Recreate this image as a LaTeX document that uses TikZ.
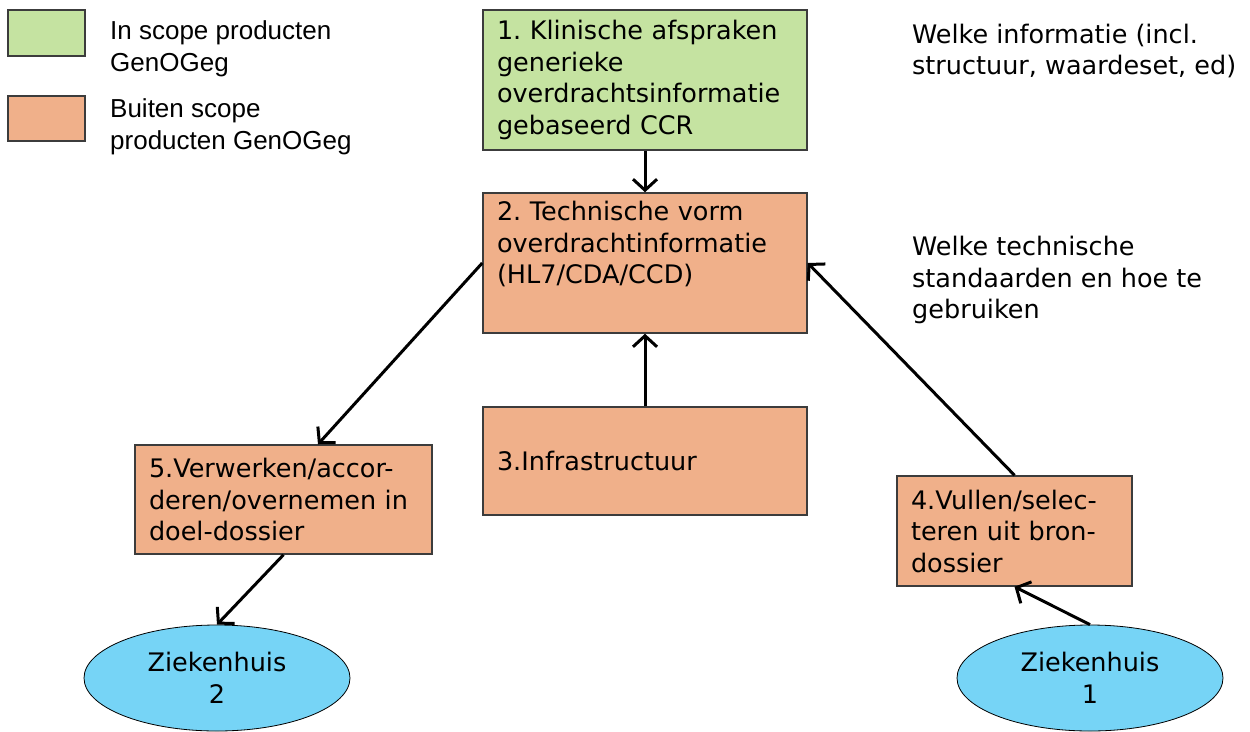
\documentclass[tikz,border=0pt]{standalone}
\usepackage{fontspec}
\setmainfont{DejaVu Sans}
\newfontfamily\legfont{Liberation Sans}
\usetikzlibrary{arrows.meta,shapes.geometric}
\definecolor{ingreen}{RGB}{197,227,161}
\definecolor{outorange}{RGB}{240,176,138}
\definecolor{zhblue}{RGB}{118,212,246}
\definecolor{bordergray}{RGB}{60,60,60}
\frenchspacing
\tikzset{
  x=1pt, y=-1pt,
  txt/.style={font=\fontsize{25.5}{31.5}\selectfont},
  boxbase/.style={draw=bordergray, line width=1.5pt, inner xsep=14pt, inner ysep=0pt, align=left, txt},
  greenbox/.style={boxbase, fill=ingreen},
  orangebox/.style={boxbase, fill=outorange},
  zh/.style={ellipse, draw=black, line width=0.8pt, fill=zhblue, inner sep=0pt, align=center, txt},
  conn/.style={line width=3pt, -{Straight Barb[length=11pt,width=24pt]}},
  legtxt/.style={font=\legfont\fontsize{26}{32}\selectfont, align=left, anchor=west, inner sep=0pt},
  note/.style={txt, align=left, anchor=west, inner sep=0pt}
}
\begin{document}
\begin{tikzpicture}
\useasboundingbox (0,0) rectangle (1250,731);
% legend
\node[greenbox, minimum width=77pt, minimum height=46pt, text width=0pt, inner xsep=0pt] (lg1) at (46.5,33) {};
\node[orangebox, minimum width=77pt, minimum height=45pt, text width=0pt, inner xsep=0pt] (lg2) at (46.5,118.5) {};
\node[legtxt] (lt1) at (110,49) {In scope producten\\GenOGeg};
\node[legtxt] (lt2) at (110,127) {Buiten scope\\producten GenOGeg};
% boxes
\node[greenbox, text width=296pt, minimum height=140pt] (b1) at (645,80) {1. Klinische afspraken\\generieke\\overdrachtsinformatie\\gebaseerd CCR};
\node[orangebox, text width=296pt, minimum height=140pt] (b2) at (645,263) {2. Technische vorm\\overdrachtinformatie\\(HL7/CDA/CCD)\\\strut};
\node[orangebox, text width=296pt, minimum height=108pt] (b3) at (645,461) {3.Infrastructuur};
\node[orangebox, text width=269pt, minimum height=109pt] (b5) at (283.5,499.5) {5.Verwerken/accor-\\deren/overnemen in\\doel-dossier};
\node[orangebox, text width=207pt, minimum height=110pt] (b4) at (1014.5,531) {4.Vullen/selec-\\teren uit bron-\\dossier};
% hospitals
\node[zh, minimum width=266pt, minimum height=106pt] (z2) at (217,678) {Ziekenhuis\\2};
\node[zh, minimum width=266pt, minimum height=106pt] (z1) at (1090,678) {Ziekenhuis\\1};
% notes
\node[note] (n1) at (912,51) {Welke informatie (incl.\\structuur, waardeset, ed)};
\node[note] (n2) at (912,280) {Welke technische\\standaarden en hoe te\\gebruiken};
% connectors
\draw[conn] (b1.south) -- (b2.north);
\draw[conn] (b3.north) -- (b2.south);
\draw[conn] (b2.west) -- ([xshift=34.5pt]b5.north);
\draw[conn] (b4.north) -- (b2.east);
\draw[conn] (b5.south) -- (z2.north);
\draw[conn] (z1.north) -- (b4.south);
\end{tikzpicture}
\end{document}
